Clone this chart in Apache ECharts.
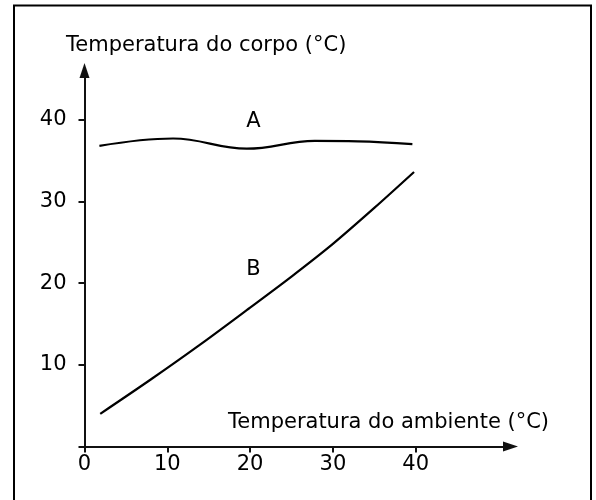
<!DOCTYPE html>
<html>
<head>
<meta charset="utf-8">
<script src="https://cdn.jsdelivr.net/npm/echarts@6/dist/echarts.min.js"></script>
<style>
html,body{margin:0;padding:0;background:#fff;}
#chart{width:596px;height:500px;}
</style>
</head>
<body>
<div id="chart"></div>
<script>
// Data (x: ambient temperature °C, y: body temperature °C)
var seriesA = [[1.8, 36.8], [10.7, 37.7], [19.6, 36.45], [27.8, 37.4], [33, 37.35], [39.6, 37.0]];
var seriesB = [[1.9, 4.0], [8, 8.2], [14, 12.5], [20, 17.0], [25, 20.8], [30, 24.8], [35, 29.2], [39.8, 33.6]];
var xTicks = [0, 10, 20, 30, 40];
var yTicks = [10, 20, 30, 40];
var yTickMarks = [0, 10, 20, 30, 40];
var labelA = {name: 'A', coord: [20.4, 39.8]};
var labelB = {name: 'B', coord: [20.4, 21.7]};
var yAxisName = 'Temperatura do corpo (°C)';
var xAxisName = 'Temperatura do ambiente (°C)';

var FONT = 'DejaVu Sans';
var chart = echarts.init(document.getElementById('chart'), null, {renderer: 'canvas'});
chart.setOption({
  animation: false,
  backgroundColor: '#fff',
  grid: {left: 84.5, width: 426, top: 70.5, height: 376, containLabel: false, outerBoundsMode: 'none'},
  xAxis: {
    type: 'value', min: 0, max: 426 / 8.28, interval: 10,
    splitLine: {show: false},
    axisLine: {onZero: false, lineStyle: {color: '#111', width: 2}, symbol: ['none', 'triangle'], symbolSize: [10, 15]},
    axisTick: {show: true, length: 6, lineStyle: {color: '#111', width: 2}, customValues: xTicks},
    axisLabel: {margin: 8, color: '#000', fontSize: 21, fontFamily: FONT, customValues: xTicks}
  },
  yAxis: {
    type: 'value', min: 0, max: 376 / 8.17, interval: 10,
    splitLine: {show: false},
    axisLine: {onZero: false, lineStyle: {color: '#111', width: 2}, symbol: ['none', 'triangle'], symbolSize: [10, 15]},
    axisTick: {show: true, length: 6, lineStyle: {color: '#111', width: 2}, customValues: yTickMarks},
    axisLabel: {margin: 18, color: '#000', fontSize: 21, fontFamily: FONT, customValues: yTicks}
  },
  graphic: [
    {type: 'polyline', shape: {points: [[14, 500], [14, 5.5], [591, 5.5], [591, 500]]}, style: {stroke: '#000', lineWidth: 2, fill: null}},
    {type: 'text', left: 66, top: 35, style: {text: yAxisName, fontSize: 21, fontFamily: FONT, fill: '#000'}},
    {type: 'text', left: 228, top: 412, style: {text: xAxisName, fontSize: 21, fontFamily: FONT, fill: '#000'}}
  ],
  series: [
    {
      type: 'line', data: seriesA, smooth: 0.4, showSymbol: false,
      lineStyle: {color: '#000', width: 2.2},
      markPoint: {symbol: 'circle', symbolSize: 0, data: [{coord: labelA.coord, value: labelA.name}],
        label: {show: true, formatter: labelA.name, color: '#000', fontSize: 21, fontFamily: FONT, position: 'inside'}}
    },
    {
      type: 'line', data: seriesB, smooth: 0.3, showSymbol: false,
      lineStyle: {color: '#000', width: 2.2},
      markPoint: {symbol: 'circle', symbolSize: 0, data: [{coord: labelB.coord, value: labelB.name}],
        label: {show: true, formatter: labelB.name, color: '#000', fontSize: 21, fontFamily: FONT, position: 'inside'}}
    }
  ]
});
</script>
</body>
</html>
